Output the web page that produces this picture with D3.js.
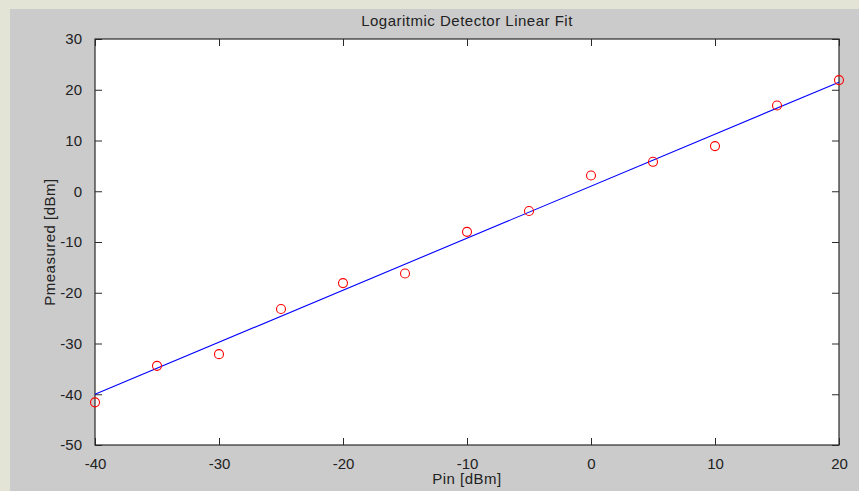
<!DOCTYPE html>
<html>
<head>
<meta charset="utf-8">
<script src="https://cdn.jsdelivr.net/npm/d3@7/dist/d3.min.js"></script>
<style>
  html, body { margin: 0; padding: 0; background: #e3e3d6; }
  svg { display: block; }
  text { font-family: "Liberation Sans", Arial, sans-serif; fill: #222; }
</style>
</head>
<body>
<svg id="chart" width="859" height="491"></svg>
<script>
// Input power sweep (dBm) and measured detector output (dBm)
const pin = [-40, -35, -30, -25, -20, -15, -10, -5, 0, 5, 10, 15, 20];
const pmeasured = [-41.6, -34.4, -32.1, -23.2, -18.1, -16.2, -8.0, -3.9, 3.1, 5.8, 8.9, 16.9, 21.9];
// Linear fit endpoints
const fitX = [-40, 20];
const fitY = [-40.0, 21.5];
const xTicks = [-40, -30, -20, -10, 0, 10, 20];
const yTicks = [-50, -40, -30, -20, -10, 0, 10, 20, 30];

const svg = d3.select("#chart");
const W = 859, H = 491;
const plot = { left: 95, top: 39, right: 839, bottom: 445 };
const fmt = d => String(d); // plain hyphen-minus

// figure panel
svg.append("rect").attr("x", 10).attr("y", 9).attr("width", W - 10).attr("height", H - 9)
  .attr("fill", "#cbcbcb");

const x = d3.scaleLinear().domain([-40, 20]).range([plot.left, plot.right]);
const y = d3.scaleLinear().domain([-50, 30]).range([plot.bottom, plot.top]);

svg.append("rect")
  .attr("x", plot.left).attr("y", plot.top)
  .attr("width", plot.right - plot.left).attr("height", plot.bottom - plot.top)
  .attr("fill", "#fff");

const tickLen = 7;
const axisColor = "#2a2a2a";

function styleAxis(g) {
  g.select(".domain").remove();
  g.selectAll(".tick line").attr("stroke", axisColor).attr("stroke-width", 1);
  g.selectAll(".tick text").attr("font-size", 15).attr("fill", "#222")
    .attr("font-family", "'Liberation Sans', Arial, sans-serif");
}

// bottom axis (labels) with inward ticks
svg.append("g").attr("transform", `translate(0,${plot.bottom})`)
  .call(d3.axisBottom(x).tickValues(xTicks).tickSize(-tickLen).tickPadding(13).tickFormat(fmt))
  .call(styleAxis);
// top axis ticks
svg.append("g").attr("transform", `translate(0,${plot.top})`)
  .call(d3.axisTop(x).tickValues(xTicks).tickSize(-tickLen).tickFormat(""))
  .call(styleAxis);
// left axis with labels
svg.append("g").attr("transform", `translate(${plot.left},0)`)
  .call(d3.axisLeft(y).tickValues(yTicks).tickSize(-tickLen).tickPadding(13).tickFormat(fmt))
  .call(styleAxis);
// right axis ticks
svg.append("g").attr("transform", `translate(${plot.right},0)`)
  .call(d3.axisRight(y).tickValues(yTicks).tickSize(-tickLen).tickFormat(""))
  .call(styleAxis);

// box
svg.append("rect")
  .attr("x", plot.left).attr("y", plot.top)
  .attr("width", plot.right - plot.left).attr("height", plot.bottom - plot.top)
  .attr("fill", "none").attr("stroke", axisColor).attr("stroke-width", 1.2);

// fit line
const fit = fitX.map((v, i) => [v, fitY[i]]);
svg.append("path").datum(fit)
  .attr("d", d3.line().x(d => x(d[0])).y(d => y(d[1])))
  .attr("fill", "none").attr("stroke", "#0000ff").attr("stroke-width", 1.1);

// measured points
svg.append("g").selectAll("circle")
  .data(pin.map((v, i) => [v, pmeasured[i]]))
  .join("circle")
  .attr("cx", d => x(d[0])).attr("cy", d => y(d[1])).attr("r", 4.5)
  .attr("fill", "none").attr("stroke", "#ff0000").attr("stroke-width", 1.1);

// title and axis labels
svg.append("text").attr("x", (plot.left + plot.right) / 2).attr("y", 26)
  .attr("text-anchor", "middle").attr("font-size", 15).attr("letter-spacing", 0.5)
  .text("Logaritmic Detector Linear Fit");
svg.append("text").attr("x", (plot.left + plot.right) / 2).attr("y", 484)
  .attr("text-anchor", "middle").attr("font-size", 15).attr("letter-spacing", 0.5)
  .text("Pin [dBm]");
svg.append("text")
  .attr("transform", `translate(55,${(plot.top + plot.bottom) / 2}) rotate(-90)`)
  .attr("text-anchor", "middle").attr("font-size", 15).attr("letter-spacing", 0.5)
  .text("Pmeasured [dBm]");
</script>
</body>
</html>
